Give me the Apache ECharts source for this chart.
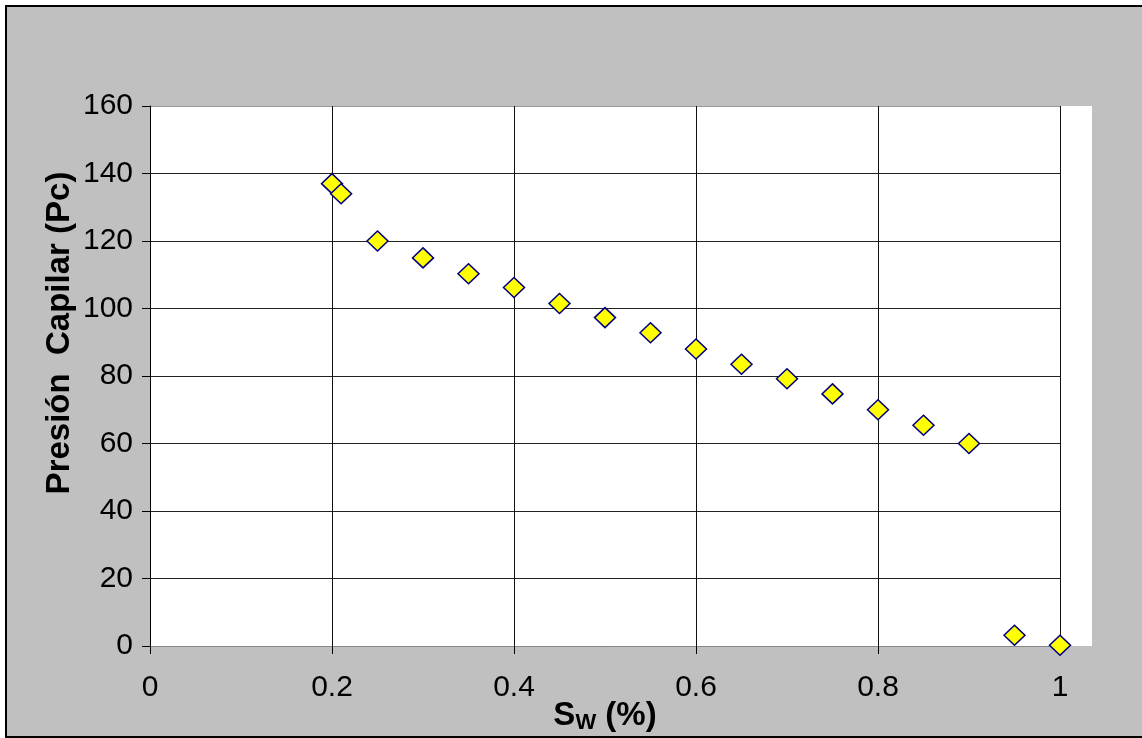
<!DOCTYPE html>
<html>
<head>
<meta charset="utf-8">
<script src="https://cdn.jsdelivr.net/npm/echarts@6/dist/echarts.min.js"></script>
<style>
  html, body { margin: 0; padding: 0; background: #fff; }
  #chart { width: 1142px; height: 738px; }
</style>
</head>
<body>
<div id="chart"></div>
<script>
// Sw vs capillary pressure readings
var swValues = [0.2, 0.21, 0.25, 0.3, 0.35, 0.4, 0.45, 0.5, 0.55, 0.6, 0.65, 0.7, 0.75, 0.8, 0.85, 0.9, 0.95, 1.0];
var pcValues = [137, 134, 120, 115, 110.3, 106.2, 101.5, 97.3, 92.8, 88, 83.5, 79.2, 74.7, 70, 65.4, 60, 3.2, 0.2];

var points = swValues.map(function (sw, i) { return [sw, pcValues[i]]; });

var font = "'Liberation Sans', Arial, sans-serif";

var myChart = echarts.init(document.getElementById('chart'));
var option = {
    backgroundColor: '#fff',
    animation: false,
    graphic: [
        {
            type: 'rect', z: -10, silent: true,
            shape: { x: 6, y: 6, width: 1150, height: 731 },
            style: { fill: '#C0C0C0', stroke: '#000', lineWidth: 2 }
        },
        {
            type: 'rect', z: -9, silent: true,
            shape: { x: 150, y: 106, width: 942, height: 540 },
            style: { fill: '#fff' }
        }
    ],
    grid: {
        left: 150,
        top: 106,
        right: 82,
        bottom: 92,
        outerBoundsMode: 'none'
    },
    xAxis: {
        type: 'value',
        min: 0,
        max: 1,
        interval: 0.2,
        name: '{s|S}{w|W}{p| (%)}',
        nameLocation: 'middle',
        nameGap: 53,
        nameMoveOverlap: false,
        nameTextStyle: {
            rich: {
                s: { fontFamily: font, fontWeight: 'bold', fontSize: 33, color: '#000', verticalAlign: 'bottom' },
                w: { fontFamily: font, fontWeight: 'bold', fontSize: 22, color: '#000', verticalAlign: 'bottom', padding: [0, 0, -2, 0] },
                p: { fontFamily: font, fontWeight: 'bold', fontSize: 33, color: '#000', verticalAlign: 'bottom' }
            }
        },
        axisLine: { lineStyle: { color: '#888', width: 1 } },
        axisTick: { show: true, length: 8, lineStyle: { color: '#000' } },
        axisLabel: { margin: 27, fontSize: 30, fontFamily: font, color: '#000' },
        splitLine: { show: true, lineStyle: { color: '#111', width: 1 } }
    },
    yAxis: {
        type: 'value',
        min: 0,
        max: 160,
        interval: 20,
        name: 'Presión  Capilar (Pc)',
        nameLocation: 'middle',
        nameGap: 74,
        nameMoveOverlap: false,
        nameTextStyle: {
            fontFamily: font, fontWeight: 'bold', fontSize: 33, color: '#000',
            padding: [0, 0, 0, 86]
        },
        axisLine: { show: true, lineStyle: { color: '#000', width: 1 } },
        axisTick: { show: true, length: 8, lineStyle: { color: '#000' } },
        axisLabel: { margin: 17, fontSize: 30, fontFamily: font, color: '#000' },
        splitLine: {
            show: true,
            lineStyle: {
                color: ['#888', '#222', '#222', '#222', '#222', '#222', '#222', '#222', '#999'],
                width: 1
            }
        }
    },
    series: [{
        type: 'scatter',
        data: points,
        clip: false,
        symbol: 'diamond',
        symbolSize: [21, 20],
        itemStyle: {
            color: '#FFFF00',
            borderColor: '#000080',
            borderWidth: 1.5,
            opacity: 1
        }
    }]
};

myChart.setOption(option);
</script>
</body>
</html>
